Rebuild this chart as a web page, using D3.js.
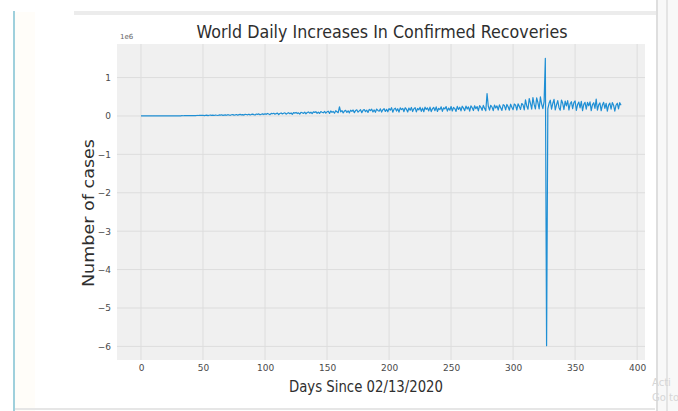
<!DOCTYPE html>
<html>
<head>
<meta charset="utf-8">
<script src="https://cdn.jsdelivr.net/npm/d3@7"></script>
<style>
  html, body { margin: 0; padding: 0; background: #ffffff; }
  svg { display: block; font-family: "DejaVu Sans", sans-serif; }
</style>
</head>
<body>
<svg id="chart" width="678" height="411"></svg>
<script>
// Daily increase in confirmed recoveries worldwide, in millions, day 0 = 02/13/2020
const dayIncreaseMillions = [
  0.001,0.001,0.002,0.001,0.002,0.002,0.001,0.002,0.003,0.002,
  0.002,0.003,0.002,0.002,0.003,0.002,0.003,0.003,0.002,0.003,
  0.003,0.002,0.003,0.004,0.003,0.004,0.004,0.005,0.004,0.005,
  0.005,0.006,0.005,0.007,0.006,0.008,0.007,0.008,0.009,0.008,
  0.010,0.009,0.011,0.012,0.010,0.013,0.012,0.014,0.013,0.015,
  0.018,0.011,0.016,0.021,0.009,0.019,0.023,0.014,0.020,0.012,
  0.025,0.019,0.013,0.027,0.022,0.030,0.015,0.024,0.029,0.018,
  0.033,0.026,0.017,0.031,0.036,0.022,0.029,0.038,0.020,0.034,
  0.041,0.027,0.036,0.023,0.044,0.039,0.030,0.046,0.025,0.040,
  0.048,0.035,0.028,0.051,0.043,0.054,0.031,0.045,0.056,0.037,
  0.060,0.042,0.065,0.051,0.034,0.068,0.057,0.071,0.045,0.062,
  0.075,0.038,0.066,0.079,0.053,0.072,0.083,0.047,0.070,0.086,
  0.059,0.078,0.042,0.089,0.074,0.093,0.063,0.081,0.050,0.096,
  0.085,0.068,0.101,0.055,0.090,0.104,0.073,0.097,0.061,0.108,
  0.094,0.112,0.070,0.101,0.065,0.116,0.099,0.083,0.120,0.074,
  0.108,0.124,0.068,0.131,0.095,0.117,0.072,0.136,0.112,0.086,
  0.240,0.104,0.141,0.078,0.128,0.146,0.092,0.135,0.081,0.150,
  0.118,0.155,0.087,0.140,0.160,0.099,0.131,0.164,0.084,0.146,
  0.168,0.112,0.152,0.091,0.172,0.137,0.176,0.104,0.158,0.095,
  0.181,0.143,0.124,0.185,0.101,0.163,0.190,0.118,0.172,0.108,
  0.194,0.150,0.216,0.098,0.178,0.205,0.127,0.188,0.101,0.210,
  0.165,0.199,0.112,0.214,0.176,0.104,0.207,0.148,0.222,0.116,
  0.185,0.218,0.106,0.196,0.157,0.225,0.121,0.203,0.110,0.229,
  0.172,0.208,0.131,0.232,0.114,0.190,0.221,0.138,0.236,0.117,
  0.199,0.165,0.239,0.121,0.214,0.183,0.243,0.126,0.207,0.150,
  0.246,0.130,0.223,0.192,0.119,0.250,0.171,0.229,0.134,0.254,
  0.204,0.138,0.258,0.180,0.236,0.125,0.262,0.216,0.142,0.266,
  0.189,0.245,0.131,0.270,0.225,0.147,0.275,0.198,0.136,0.585,
  0.254,0.151,0.279,0.233,0.140,0.284,0.207,0.262,0.155,0.289,
  0.217,0.145,0.294,0.270,0.160,0.300,0.241,0.150,0.306,0.226,
  0.165,0.312,0.280,0.155,0.318,0.250,0.171,0.325,0.290,0.160,
  0.420,0.260,0.176,0.455,0.330,0.178,0.478,0.300,0.182,0.470,
  0.350,0.185,0.495,0.310,0.190,0.372,1.500,-5.980,0.188,0.330,
  0.410,0.178,0.325,0.432,0.160,0.290,0.398,0.215,0.150,0.415,
  0.330,0.168,0.385,0.262,0.402,0.155,0.318,0.372,0.190,0.350,
  0.390,0.145,0.298,0.360,0.208,0.378,0.140,0.302,0.355,0.180,
  0.352,0.265,0.368,0.138,0.296,0.345,0.195,0.440,0.150,0.290,
  0.340,0.136,0.285,0.355,0.200,0.330,0.128,0.282,0.336,0.175,
  0.350,0.282,0.126,0.280,0.332,0.185,0.346,0.278
];
const days = dayIncreaseMillions.map((_, i) => i);

const xTickValues = [0, 50, 100, 150, 200, 250, 300, 350, 400];
const yTickValues = [1, 0, -1, -2, -3, -4, -5, -6];

const titleText = "World Daily Increases In Confirmed Recoveries";
const xLabelText = "Days Since 02/13/2020";
const yLabelText = "Number of cases";
const offsetText = "1e6";

const svg = d3.select("#chart");

// surrounding page frame
svg.append("rect").attr("x", 0).attr("y", 0).attr("width", 678).attr("height", 411).attr("fill", "#ffffff");
svg.append("rect").attr("x", 15).attr("y", 12).attr("width", 20).attr("height", 399).attr("fill", "#fffdf9");
svg.append("rect").attr("x", 74).attr("y", 11).attr("width", 582).attr("height", 4).attr("fill", "#ececec");
svg.append("rect").attr("x", 13).attr("y", 11).attr("width", 2).attr("height", 400).attr("fill", "#9fd0dc");
svg.append("rect").attr("x", 15).attr("y", 408).attr("width", 640).attr("height", 2).attr("fill", "#e6e6e6");
svg.append("rect").attr("x", 656).attr("y", 0).attr("width", 2).attr("height", 411).attr("fill", "#dedede");
svg.append("rect").attr("x", 658).attr("y", 0).attr("width", 20).attr("height", 411).attr("fill", "#f8f8f8");
svg.append("rect").attr("x", 666).attr("y", 0).attr("width", 2).attr("height", 411).attr("fill", "#e4e4e4");

// axes box
const plot = { left: 117, top: 44, width: 528, height: 316 };

const xExt = d3.extent(days);
const xPad = (xExt[1] - xExt[0]) * 0.05;
const x = d3.scaleLinear()
  .domain([xExt[0] - xPad, xExt[1] + xPad])
  .range([plot.left, plot.left + plot.width]);

const yExt = d3.extent(dayIncreaseMillions);
const yPad = (yExt[1] - yExt[0]) * 0.05;
const y = d3.scaleLinear()
  .domain([yExt[0] - yPad, yExt[1] + yPad])
  .range([plot.top + plot.height, plot.top]);

svg.append("rect")
  .attr("x", plot.left).attr("y", plot.top)
  .attr("width", plot.width).attr("height", plot.height)
  .attr("fill", "#f0f0f0");

// gridlines
const grid = svg.append("g").attr("stroke", "#dddddd").attr("stroke-width", 1);
grid.selectAll("line.gx").data(xTickValues).join("line")
  .attr("class", "gx")
  .attr("x1", d => x(d)).attr("x2", d => x(d))
  .attr("y1", plot.top).attr("y2", plot.top + plot.height);
grid.selectAll("line.gy").data(yTickValues).join("line")
  .attr("class", "gy")
  .attr("x1", plot.left).attr("x2", plot.left + plot.width)
  .attr("y1", d => y(d)).attr("y2", d => y(d));

// axes with tick labels only
const xAxis = svg.append("g")
  .attr("transform", `translate(0,${plot.top + plot.height})`)
  .call(d3.axisBottom(x).tickValues(xTickValues).tickSize(0).tickPadding(5).tickFormat(d3.format("d")));
const yAxis = svg.append("g")
  .attr("transform", `translate(${plot.left},0)`)
  .call(d3.axisLeft(y).tickValues(yTickValues).tickSize(0).tickPadding(6)
    .tickFormat(d => (d < 0 ? "\u2212" + Math.abs(d) : String(d))));
[xAxis, yAxis].forEach(a => {
  a.select(".domain").remove();
  a.selectAll("text")
    .attr("font-family", "DejaVu Sans, sans-serif")
    .attr("font-size", 9)
    .attr("fill", "#4a4a4a");
});

// series line
const line = d3.line()
  .x((d, i) => x(days[i]))
  .y(d => y(d));
svg.append("path")
  .datum(dayIncreaseMillions)
  .attr("d", line)
  .attr("fill", "none")
  .attr("stroke", "#1f8fd4")
  .attr("stroke-width", 1.2)
  .attr("stroke-linejoin", "round");

// scale offset
svg.append("text")
  .attr("x", plot.left + 3).attr("y", plot.top - 5)
  .attr("font-size", 7).attr("fill", "#666")
  .text(offsetText);

// title and axis labels
svg.append("text")
  .attr("x", 382).attr("y", 38)
  .attr("text-anchor", "middle")
  .attr("font-size", 17).attr("fill", "#2e2e2e")
  .attr("textLength", 371).attr("lengthAdjust", "spacingAndGlyphs")
  .text(titleText);

svg.append("text")
  .attr("x", 366).attr("y", 392)
  .attr("text-anchor", "middle")
  .attr("font-size", 16).attr("fill", "#2e2e2e")
  .attr("textLength", 154).attr("lengthAdjust", "spacingAndGlyphs")
  .text(xLabelText);

svg.append("text")
  .attr("transform", "translate(94,213) rotate(-90)")
  .attr("text-anchor", "middle")
  .attr("font-size", 16).attr("fill", "#2e2e2e")
  .attr("textLength", 148).attr("lengthAdjust", "spacingAndGlyphs")
  .text(yLabelText);

// faint watermark at the lower right corner
const wm = svg.append("g").attr("fill", "#d6d6d6").attr("font-size", 10);
wm.append("text").attr("x", 652).attr("y", 386).text("Acti");
wm.append("text").attr("x", 652).attr("y", 401).text("Go to");
</script>
</body>
</html>
